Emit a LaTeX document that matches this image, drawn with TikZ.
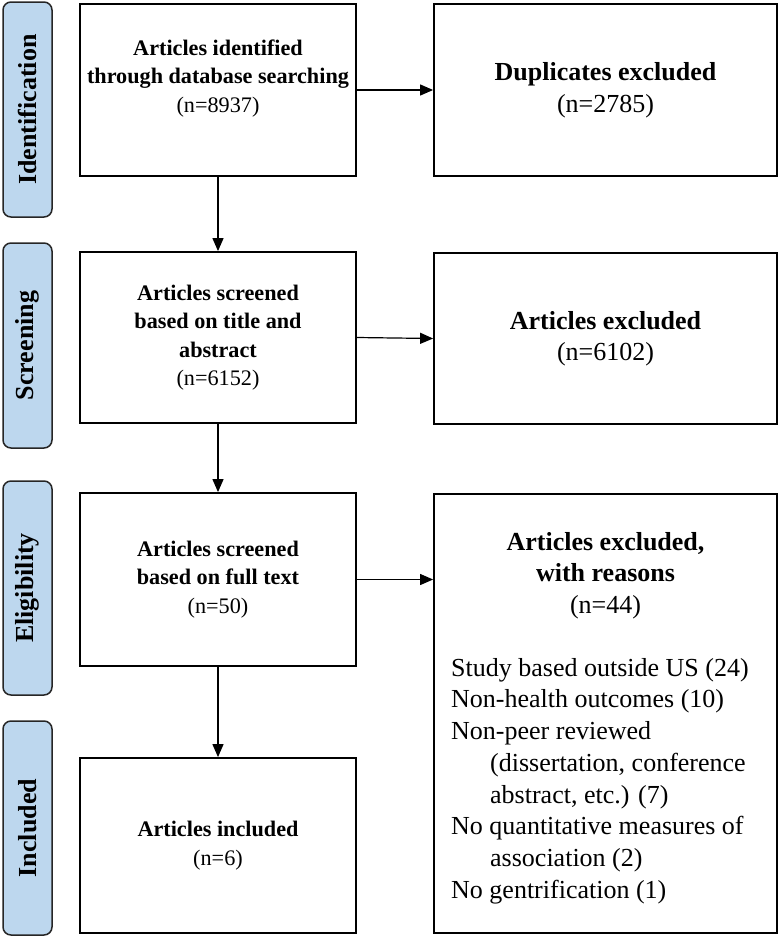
\documentclass[tikz,border=0pt]{standalone}
\usepackage{fontspec}
\setmainfont{Liberation Serif}
\usetikzlibrary{arrows.meta}
\definecolor{tabblue}{HTML}{BDD7EE}
\tikzset{
  tabbox/.style={draw=black!85, line width=1.5pt, fill=tabblue, rounded corners=8pt,
    rotate=90, minimum height=49pt, inner sep=0pt, font=\fontsize{26}{30}\selectfont\bfseries},
  lbox/.style={draw, line width=1.8pt, minimum width=276pt, inner sep=0pt, align=center,
    font=\fontsize{22.2}{28.5}\selectfont},
  rbox/.style={draw, line width=1.8pt, minimum width=343pt, inner sep=0pt, align=center,
    font=\fontsize{26}{31.5}\selectfont},
  txt/.style={inner sep=0pt, font=\fontsize{26}{31.7}\selectfont},
  arr/.style={line width=1.2pt, -{Triangle[length=13pt,width=11pt]}}
}
\begin{document}
\begin{tikzpicture}[x=1pt,y=-1pt]
\useasboundingbox (0,0) rectangle (780,937);
% phase tabs
\node[tabbox, minimum width=215pt] (t1) at (27.5,109.5) {Identification};
\node[tabbox, minimum width=205pt] (t2) at (27.5,345.5) {Screening};
\node[tabbox, minimum width=214pt] (t3) at (27.5,588) {Eligibility};
\node[tabbox, minimum width=214pt] (t4) at (27.5,828) {Included};
% left column
\node[lbox, minimum height=172pt] (b1) at (218,90)
  {\textbf{Articles identified}\\\textbf{through database searching}\\(n=8937)\\\mbox{}};
\node[lbox, minimum height=171pt] (b2) at (218,337.5)
  {\textbf{Articles screened}\\\textbf{based on title and}\\\textbf{abstract}\\(n=6152)};
\node[lbox, minimum height=173pt] (b3) at (218,579.5)
  {\textbf{Articles screened}\\\textbf{based on full text}\\(n=50)};
\node[lbox, minimum height=175pt] (b4) at (218,845.5)
  {\textbf{Articles included}\\(n=6)};
% right column
\node[rbox, minimum height=172pt] (r1) at (605.5,90)
  {\textbf{Duplicates excluded}\\(n=2785)};
\node[rbox, minimum height=171pt] (r2) at (605.5,338.5)
  {\textbf{Articles excluded}\\(n=6102)};
\node[rbox, minimum height=439pt] (r3) at (605.5,713.5) {};
\node[txt, align=center, anchor=north] (r3h) at (605.5,532)
  {\textbf{Articles excluded,}\\\textbf{with reasons}\\(n=44)};
\node[txt, align=left, anchor=north west] (r3l) at (451,658)
  {Study based outside US (24)\\
   Non-health outcomes (10)\\
   Non-peer reviewed\\
   \hspace*{39pt}(dissertation, conference\\
   \hspace*{39pt}abstract, etc.) (7)\\
   No quantitative measures of\\
   \hspace*{39pt}association (2)\\
   No gentrification (1)};
% connectors
\draw[arr] (b1.south) -- (b2.north);
\draw[arr] (b2.south) -- (b3.north);
\draw[arr] (b3.south) -- (b4.north);
\draw[arr] (b1.east) -- (r1.west);
\draw[arr] (b2.east) -- (r2.west);
\draw[arr] (b3.east) -- (b3.east -| r3.west);
\end{tikzpicture}
\end{document}
